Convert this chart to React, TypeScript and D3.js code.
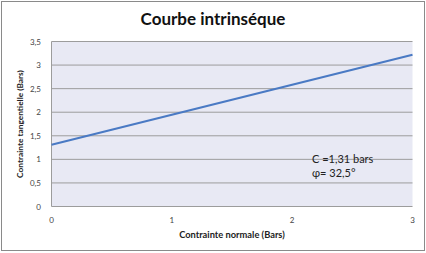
import React from "react";
import * as d3 from "d3";

const xTicks = [0, 1, 2, 3];
const yTicks = [0, 0.5, 1, 1.5, 2, 2.5, 3, 3.5];
const lineX = [0, 3];
const lineY = [1.31, 3.22];
const title = "Courbe intrinséque";
const xTitle = "Contrainte normale  (Bars)";
const yTitle = "Contrainte tangentielle  (Bars)";
const noteLines = ["C =1,31 bars", "φ=  32,5°"];

const fmt = (v: number) => String(v).replace(".", ",");

export default function App() {
  const W = 426, H = 253;
  const left = 51.5, right = 412.5, top = 41.5, bottom = 206.5;
  const x = d3.scaleLinear().domain([0, 3]).range([left, right]);
  const y = d3.scaleLinear().domain([0, 3.5]).range([bottom, top]);
  const pts = lineX.map((v, i) => [v, lineY[i]] as [number, number]);
  const line = d3.line<[number, number]>().x(d => x(d[0])).y(d => y(d[1]));
  const font = "Lato, 'Open Sans', 'Liberation Sans', sans-serif";
  return (
    <svg width={W} height={H} style={{ position: "absolute", left: 0, top: 0 }} fontFamily={font}>
      <rect x={0} y={0} width={W} height={H} fill="#fff" />
      <rect x={1.5} y={1.5} width={423} height={249} fill="#fff" stroke="#8a8a8a" strokeWidth={1} />
      <rect x={left} y={top} width={right - left} height={bottom - top} fill="#e8e9f4" />
      {yTicks.map(t => (
        <line key={t} x1={left} x2={right} y1={y(t)} y2={y(t)} stroke="#9c9c9c" strokeWidth={1} />
      ))}
      <line x1={left} x2={left} y1={top} y2={bottom} stroke="#9c9c9c" strokeWidth={1} />
      {yTicks.map(t => (
        <text key={t} x={41} y={y(t) + 3} textAnchor="end" fontSize={8} fill="#444">{fmt(t)}</text>
      ))}
      {xTicks.map(t => (
        <text key={t} x={x(t)} y={223} textAnchor="middle" fontSize={8} fill="#444">{fmt(t)}</text>
      ))}
      <path d={line(pts) || ""} fill="none" stroke="#4a7ac4" strokeWidth={2.2} />
      <text x={213} y={25} textAnchor="middle" fontSize={17} fontWeight="bold" fill="#111">{title}</text>
      <text x={232} y={238} textAnchor="middle" fontSize={9.3} fontWeight="bold" fill="#222">{xTitle}</text>
      <text transform={`translate(23,${(top + bottom) / 2}) rotate(-90)`} textAnchor="middle" fontSize={8.3} fontWeight="bold" fill="#222">{yTitle}</text>
      <text x={312} y={163} fontSize={11} fill="#222">{noteLines[0]}</text>
      <text x={312} y={177} fontSize={11} fill="#222">{noteLines[1]}</text>
    </svg>
  );
}
